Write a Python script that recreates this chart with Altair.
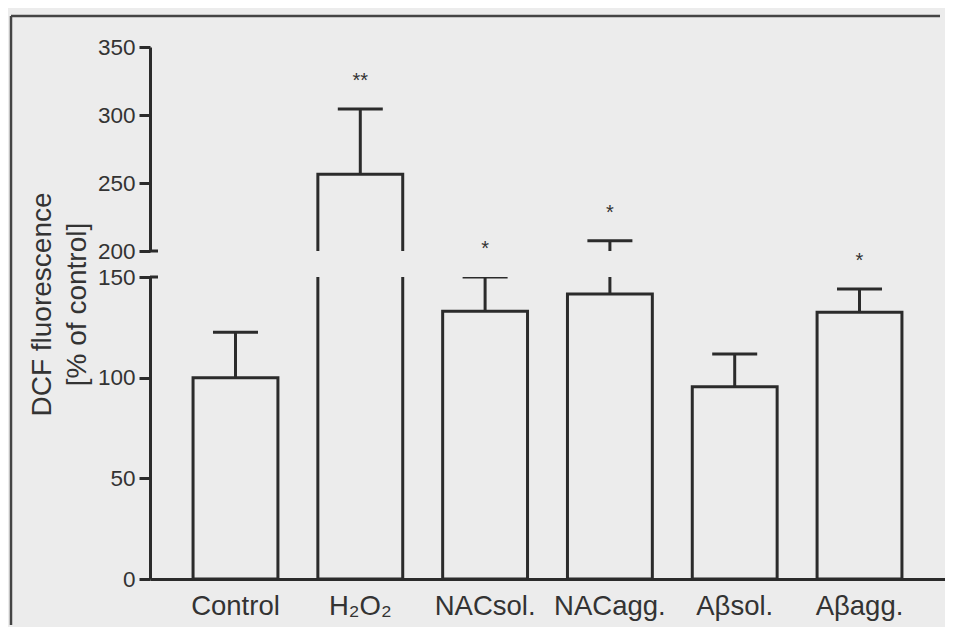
import altair as alt
import pandas as pd

# ---- data ----
categories = ["Control", "H₂O₂", "NACsol.", "NACagg.", "Aβsol.", "Aβagg."]
means = [100, 256.5, 133, 141.5, 95.5, 132.5]
errors = [22.5, 48, 17, 66, 16.3, 11.5]
stars = ["", "**", "*", "*", "", "*"]

upper_domain = [200, 350]
lower_domain = [0, 150]
upper_ticks = [200, 250, 300, 350]
lower_ticks = [0, 50, 100, 150]

df = pd.DataFrame({"cat": categories, "mean": means, "err": errors, "star": stars})
df["top"] = df["mean"] + df["err"]

INK = "#2b2b2b"
TXT = "#333333"
BG = "#ececec"
FONT = "Liberation Sans"
W = 795
H_UP = 204
H_LO = 302
SW = 3


def panel(domain, ticks, height, is_lower):
    yscale = alt.Scale(domain=domain, nice=False, zero=False)
    axis_kw = dict(
        values=ticks, tickSize=11, tickWidth=SW, tickColor=INK,
        domainWidth=SW, domainColor=INK, labelFontSize=22.5, labelFont=FONT,
        labelColor=TXT, labelPadding=4, grid=False, labelFlush=False,
    )
    if is_lower:
        yaxis = alt.Axis(
            title=["DCF fluorescence", "[% of control]"],
            titleX=-108, titleY=27, titleAngle=270, titleAlign="center",
            titleBaseline="middle", titleLineHeight=35, titleFontSize=28,
            titleFont=FONT, titleFontWeight="normal", titleColor=TXT,
            **axis_kw,
        )
        xaxis = alt.Axis(
            title=None, labelAngle=0, ticks=False, tickSize=0, labelPadding=35,
            labelBaseline="alphabetic", labelFontSize=27.5, labelFont=FONT,
            labelColor=TXT, domainColor=INK, domainWidth=SW, grid=False,
        )
    else:
        yaxis = alt.Axis(title=None, **axis_kw)
        xaxis = None

    x_enc = alt.X(
        "cat:N", sort=categories, axis=xaxis,
        scale=alt.Scale(paddingInner=0.32, paddingOuter=0.345),
    )
    base = alt.Chart(df)

    bars = base.mark_bar(fill=BG, stroke=INK, strokeWidth=SW, clip=True).encode(
        x=x_enc,
        y=alt.Y("mean:Q", scale=yscale, axis=yaxis),
        y2=alt.datum(0),
    )
    whisk = base.mark_rule(color=INK, strokeWidth=SW, clip=True).encode(
        x=x_enc, y="mean:Q", y2="top:Q"
    )
    caps = base.mark_tick(
        color=INK, thickness=SW, size=45, opacity=1, clip=True
    ).encode(x=x_enc, y="top:Q")

    cond = "datum.top <= 150" if is_lower else "datum.top > 150"
    txt = base.transform_filter(f"{cond} && datum.star != ''").mark_text(
        dy=-22, fontSize=20, font=FONT, color=TXT, baseline="alphabetic"
    ).encode(x=x_enc, y="top:Q", text="star:N")

    brk_val = domain[0] if not is_lower else domain[1]
    brk = alt.Chart(pd.DataFrame({"v": [brk_val]})).mark_rule(
        color=INK, strokeWidth=SW
    ).encode(y="v:Q", x=alt.value(0), x2=alt.value(8))

    layers = [bars, whisk, caps, txt, brk]

    if not is_lower:
        frame_df = pd.DataFrame({"a": [0]})
        top_line = alt.Chart(frame_df).mark_rule(color="#444444", strokeWidth=2.5).encode(
            x=alt.value(-139), x2=alt.value(790), y=alt.value(-31), y2=alt.value(-31)
        )
        left_line = alt.Chart(frame_df).mark_rule(color="#444444", strokeWidth=2.5).encode(
            x=alt.value(-139), x2=alt.value(-139), y=alt.value(-31), y2=alt.value(578)
        )
        layers += [top_line, left_line]

    return alt.layer(*layers).properties(width=W, height=height)


upper = panel(upper_domain, upper_ticks, H_UP, False)
lower = panel(lower_domain, lower_ticks, H_LO, True)

chart = (
    alt.vconcat(upper, lower, spacing=26, bounds="flush")
    .resolve_scale(x="independent", y="independent")
    .properties(padding={"left": 1, "top": 6, "right": 0, "bottom": 0})
    .configure(background=BG, font=FONT)
    .configure_view(stroke=None)
)

chart.save("out.html", embed_options={"renderer": "svg", "actions": False})
